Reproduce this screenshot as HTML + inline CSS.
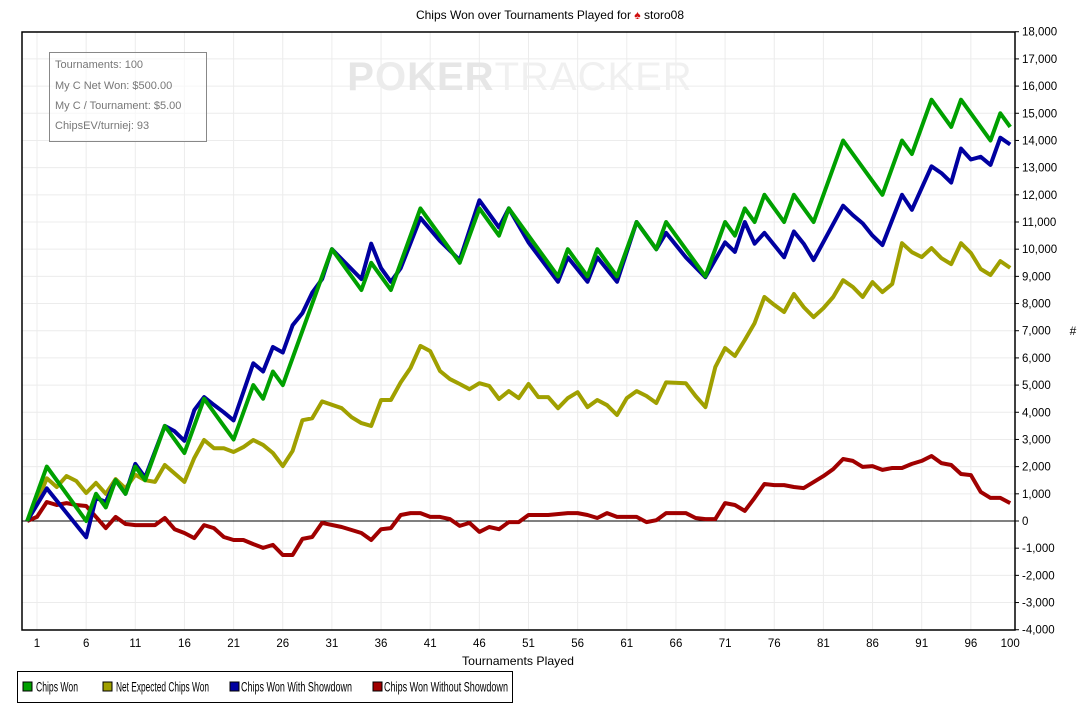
<!DOCTYPE html>
<html><head><meta charset="utf-8"><style>
body{margin:0;background:#fff;width:1089px;height:713px;overflow:hidden;font-family:"Liberation Sans",Arial,sans-serif}
svg text{font-family:"Liberation Sans",Arial,sans-serif}
</style></head><body>
<svg id="s" width="1089" height="713" xmlns="http://www.w3.org/2000/svg">
<rect width="1089" height="713" fill="#fff"/>
<g id="grid"></g>
<text x="520" y="90" text-anchor="middle" font-size="40" font-weight="bold" fill="#e6e6e6" letter-spacing="1">P<tspan fill="#ececec">O</tspan>KER<tspan font-weight="normal" fill="#f0f0f0">TRACKER</tspan></text>
<rect x="22" y="32" width="993" height="598" fill="none" stroke="#000" stroke-width="1.5"/>
<line x1="22" y1="521" x2="1015" y2="521" stroke="#000" stroke-width="1"/>
<g id="lines" fill="none" stroke-width="4" stroke-linejoin="round"></g>
<g id="labels" font-size="11.5" fill="#000"></g>
<text x="550" y="19" text-anchor="middle" font-size="12">Chips Won over Tournaments Played for <tspan fill="#d01010">♠</tspan> storo08</text>
<text x="518" y="665" text-anchor="middle" font-size="12" textLength="112" lengthAdjust="spacingAndGlyphs">Tournaments Played</text>
<text x="1073" y="335" text-anchor="middle" font-size="12">#</text>
<rect x="49.5" y="52.5" width="157" height="89" fill="#fff" fill-opacity="0.6" stroke="#888"/>
<g font-size="11" fill="#777">
<text x="55" y="68">Tournaments: 100</text>
<text x="55" y="89">My C Net Won: $500.00</text>
<text x="55" y="109">My C / Tournament: $5.00</text>
<text x="55" y="129">ChipsEV/turniej: 93</text>
</g>
<rect x="17.5" y="671.5" width="495" height="31" fill="#fff" stroke="#000"/>
<g font-size="13.5">
<rect x="23" y="682" width="9" height="9" fill="#00a000" stroke="#000"/><text x="36" y="691.5" textLength="42" lengthAdjust="spacingAndGlyphs">Chips Won</text>
<rect x="103" y="682" width="9" height="9" fill="#a0a000" stroke="#000"/><text x="116" y="691.5" textLength="93" lengthAdjust="spacingAndGlyphs">Net Expected Chips Won</text>
<rect x="230" y="682" width="9" height="9" fill="#0000a0" stroke="#000"/><text x="241" y="691.5" textLength="111" lengthAdjust="spacingAndGlyphs">Chips Won With Showdown</text>
<rect x="373" y="682" width="9" height="9" fill="#a00000" stroke="#000"/><text x="384" y="691.5" textLength="124" lengthAdjust="spacingAndGlyphs">Chips Won Without Showdown</text>
</g>
</svg>
<script>
var NS="http://www.w3.org/2000/svg";
function X(n){return 37+9.83*(n-1);}
function Y(v){return 521-v*0.027182;}
function el(t,a,p){var e=document.createElementNS(NS,t);for(var k in a)e.setAttribute(k,a[k]);p.appendChild(e);return e;}
var g=document.getElementById('grid'),lb=document.getElementById('labels');
for(var v=-4000;v<=18000;v+=1000){var y=Y(v);el('line',{x1:22,x2:1015,y1:y,y2:y,stroke:'#ececec'},g);
el('line',{x1:1015,x2:1019,y1:y,y2:y,stroke:'#000'},lb);
var t=el('text',{x:1022,y:y+4},lb);t.textContent=(v<0?'-':'')+Math.abs(v).toLocaleString('en-US');}
for(var n=1;n<=96;n+=5){var x=X(n);el('line',{x1:x,x2:x,y1:32,y2:630,stroke:'#ececec'},g);
var t=el('text',{x:x,y:647,'text-anchor':'middle'},lb);t.textContent=n;}
var t=el('text',{x:X(100),y:647,'text-anchor':'middle'},lb);t.textContent=100;
var red=[[0,0],[1,150],[2,700],[3,590],[4,660],[5,590],[6,550],[7,150],[8,-260],[9,150],[10,-110],[11,-150],[13,-150],[14,110],[15,-300],[16,-440],[17,-630],[18,-150],[19,-260],[20,-590],[21,-700],[22,-700],[23,-850],[24,-990],[25,-880],[26,-1250],[27,-1250],[28,-660],[29,-590],[30,-70],[32,-220],[33,-330],[34,-440],[35,-700],[36,-300],[37,-260],[38,220],[39,290],[40,290],[41,150],[42,150],[43,70],[44,-180],[45,-70],[46,-400],[47,-220],[48,-300],[49,-40],[50,-40],[51,220],[53,220],[55,290],[56,290],[57,220],[58,110],[59,290],[60,150],[61,150],[62,150],[63,-40],[64,30],[65,290],[67,290],[68,110],[69,70],[70,70],[71,660],[72,590],[73,370],[74,850],[75,1360],[76,1320],[77,1320],[78,1250],[79,1210],[80,1430],[81,1650],[82,1910],[83,2280],[84,2210],[85,1990],[86,2020],[87,1880],[88,1950],[89,1950],[90,2100],[91,2210],[92,2390],[93,2130],[94,2060],[95,1730],[96,1690],[97,1070],[98,850],[99,850],[100,660]];
var yel=[[0,0],[1,700],[2,1570],[3,1250],[4,1650],[5,1470],[6,1030],[7,1400],[8,1000],[9,1540],[10,1200],[11,1700],[12,1500],[13,1440],[14,2060],[16,1440],[17,2320],[18,2980],[19,2680],[20,2680],[21,2540],[22,2720],[23,2980],[24,2800],[25,2500],[26,2020],[27,2580],[28,3710],[29,3780],[30,4400],[32,4150],[33,3820],[34,3600],[35,3500],[36,4450],[37,4450],[38,5100],[39,5630],[40,6440],[41,6250],[42,5520],[43,5220],[44,5040],[45,4850],[46,5070],[47,4970],[48,4490],[49,4780],[50,4520],[51,5040],[52,4560],[53,4560],[54,4150],[55,4520],[56,4740],[57,4190],[58,4450],[59,4260],[60,3900],[61,4520],[62,4780],[63,4600],[64,4340],[65,5100],[67,5070],[68,4600],[69,4190],[70,5660],[71,6360],[72,6070],[73,6660],[74,7280],[75,8240],[76,7950],[77,7690],[78,8350],[79,7870],[80,7500],[81,7830],[82,8240],[83,8860],[84,8610],[85,8240],[86,8790],[87,8420],[88,8720],[89,10220],[90,9890],[91,9710],[92,10040],[93,9670],[94,9450],[95,10220],[96,9860],[97,9270],[98,9050],[99,9560],[100,9310]];
var blue=[[0,0],[2,1200],[6,-600],[7,850],[8,700],[9,1500],[10,1000],[11,2100],[12,1600],[14,3500],[15,3300],[16,2950],[17,4080],[18,4560],[19,4270],[20,4000],[21,3700],[23,5800],[24,5500],[25,6400],[26,6200],[27,7200],[28,7650],[29,8400],[30,8900],[31,10000],[34,8900],[35,10200],[36,9300],[37,8800],[38,9300],[40,11150],[42,10300],[44,9600],[46,11800],[48,10800],[49,11500],[51,10250],[54,8800],[55,9700],[57,8800],[58,9700],[60,8800],[62,11000],[64,10000],[65,10600],[67,9700],[69,8970],[71,10250],[72,9900],[73,11000],[74,10200],[75,10600],[77,9700],[78,10650],[79,10200],[80,9600],[83,11600],[84,11250],[85,10950],[86,10500],[87,10150],[89,12000],[90,11450],[92,13050],[93,12800],[94,12450],[95,13700],[96,13300],[97,13400],[98,13100],[99,14100],[100,13850]];
var green=[[0,0],[2,2000],[6,0],[7,1000],[8,500],[9,1500],[10,1000],[11,2000],[12,1500],[14,3500],[16,2500],[18,4500],[21,3000],[23,5000],[24,4500],[25,5500],[26,5000],[31,10000],[34,8500],[35,9500],[37,8500],[40,11500],[44,9500],[46,11500],[48,10500],[49,11500],[54,9000],[55,10000],[57,9000],[58,10000],[60,9000],[62,11000],[64,10000],[65,11000],[69,9000],[71,11000],[72,10500],[73,11500],[74,11000],[75,12000],[77,11000],[78,12000],[80,11000],[83,14000],[87,12000],[89,14000],[90,13500],[92,15500],[94,14500],[95,15500],[98,14000],[99,15000],[100,14500]];
var L=document.getElementById('lines');
[[red,'#a00000'],[yel,'#a0a000'],[blue,'#0000a0'],[green,'#00a000']].forEach(function(s){
el('polyline',{points:s[0].map(function(p){return X(p[0]).toFixed(1)+','+Y(p[1]).toFixed(1)}).join(' '),stroke:s[1]},L);});
</script>
</body></html>
